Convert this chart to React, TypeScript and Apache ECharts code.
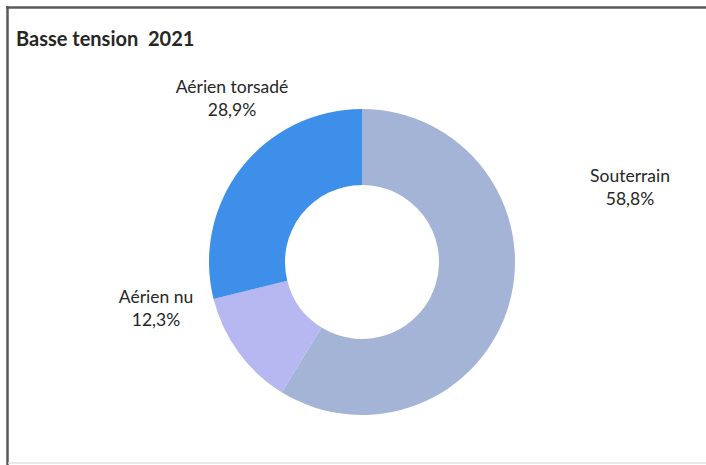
import React, { useEffect, useRef } from "react";
import * as echarts from "echarts";

const title = "Basse tension  2021";
const categories = ["Souterrain", "Aérien nu", "Aérien torsadé"];
const values = [58.8, 12.3, 28.9];
const colors = ["#a4b4d6", "#b7b7f2", "#3d8fe9"];
const labelPos: [number, number][] = [
  [630, 187],
  [156, 308],
  [232, 98],
];

export default function App() {
  const ref = useRef<HTMLDivElement>(null);
  useEffect(() => {
    if (!ref.current) return;
    const chart = echarts.init(ref.current, undefined, { renderer: "svg" });
    chart.setOption({
      animation: false,
      backgroundColor: "#ffffff",
      title: {
        text: title,
        left: 11,
        top: 23,
        textStyle: {
          fontFamily: "Lato",
          fontWeight: "bold",
          fontSize: 20,
          color: "#262626",
        },
      },
      graphic: [
        {
          type: "line",
          shape: { x1: 6, y1: 7.5, x2: 706, y2: 7.5 },
          style: { stroke: "#5a5a5a", lineWidth: 2.5 },
        },
        {
          type: "line",
          shape: { x1: 7.5, y1: 6, x2: 7.5, y2: 465 },
          style: { stroke: "#5a5a5a", lineWidth: 2.5 },
        },
        {
          type: "line",
          shape: { x1: 8, y1: 463, x2: 706, y2: 463 },
          style: { stroke: "#e2e2e2", lineWidth: 1.5 },
        },
      ],
      series: [
        {
          type: "pie",
          center: [362, 262],
          radius: [77, 153],
          startAngle: 90,
          clockwise: true,
          avoidLabelOverlap: false,
          itemStyle: { borderWidth: 0 },
          label: {
            show: true,
            position: "outside",
            formatter: (p: any) =>
              `${p.name}\n${Number(p.value).toFixed(1).replace(".", ",")}%`,
            fontFamily: "Lato",
            fontSize: 17.5,
            lineHeight: 23,
            color: "#262626",
            align: "center",
          },
          labelLine: { show: false },
          labelLayout: (params: any) => {
            const pos = labelPos[params.dataIndex];
            return {
              x: pos[0],
              y: pos[1],
              align: "center",
              verticalAlign: "middle",
            };
          },
          emphasis: { disabled: true },
          data: categories.map((c, i) => ({
            name: c,
            value: values[i],
            itemStyle: { color: colors[i] },
          })),
        },
      ],
    });
    return () => chart.dispose();
  }, []);
  return (
    <div
      ref={ref}
      style={{ position: "fixed", left: 0, top: 0, width: 706, height: 465 }}
    />
  );
}
